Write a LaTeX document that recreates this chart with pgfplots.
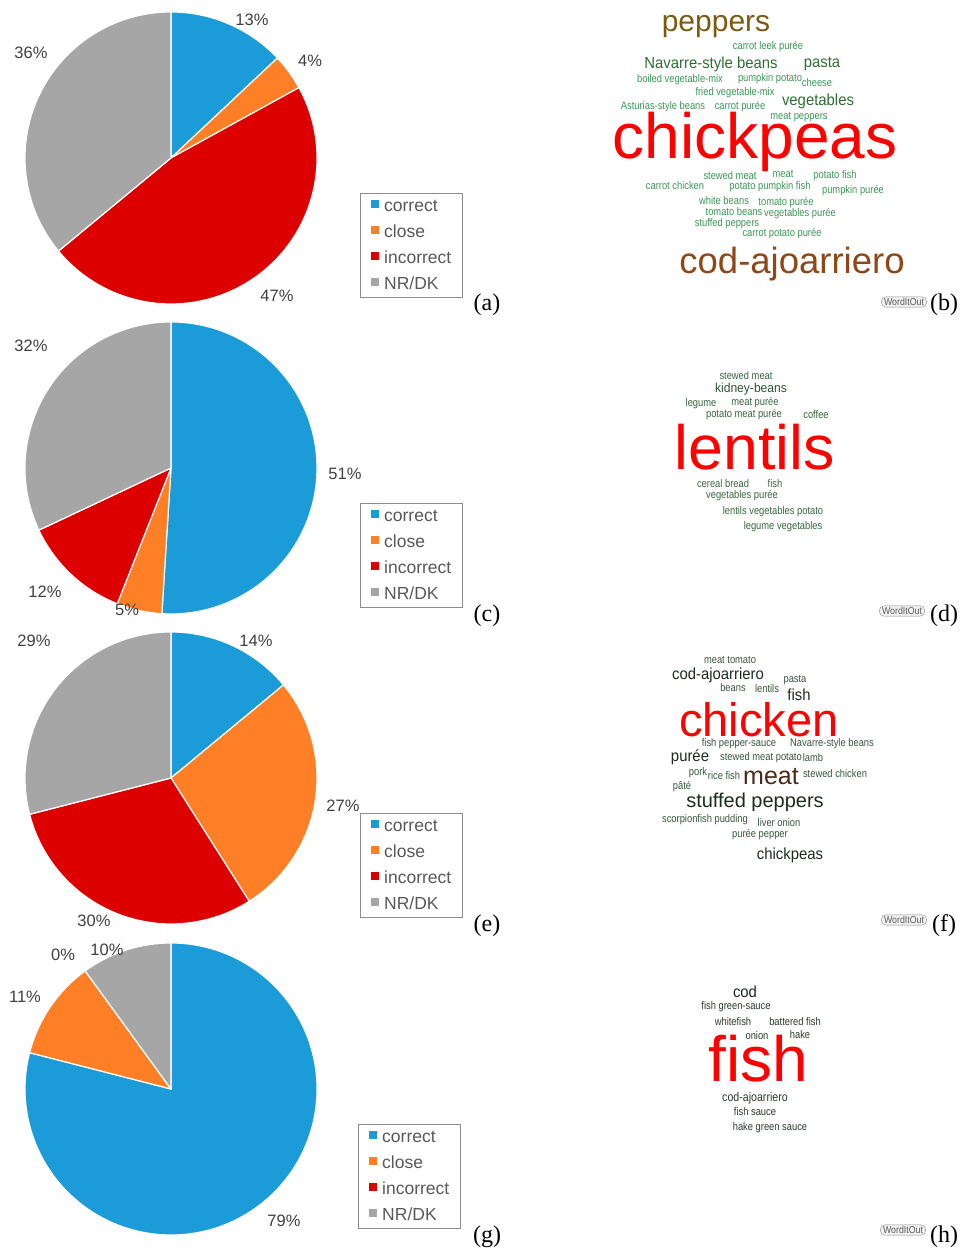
\documentclass[border=0pt]{standalone}
\usepackage{pgfplots}
\pgfplotsset{compat=1.18}
\usepackage{fontspec}
\setmainfont{Liberation Serif}
\newfontfamily\arial{Liberation Sans}
\definecolor{cBlue}{HTML}{1B9BD7}
\definecolor{cOrange}{HTML}{FF7F27}
\definecolor{cRed}{HTML}{DD0000}
\definecolor{cGray}{HTML}{A6A6A6}
\definecolor{labcol}{HTML}{404040}
\definecolor{legtext}{HTML}{595959}
\definecolor{legdraw}{HTML}{8C8C8C}
\definecolor{wRed}{HTML}{FF0000}
\definecolor{cPep}{HTML}{7B5B12}
\definecolor{cCod}{HTML}{8E4716}
\definecolor{gB}{HTML}{3A9557}
\definecolor{gBm}{HTML}{2D6E33}
\definecolor{gD}{HTML}{35653F}
\definecolor{gDm}{HTML}{2C5536}
\definecolor{gF}{HTML}{37553E}
\definecolor{gFm}{HTML}{1E2B20}
\definecolor{cMeat}{HTML}{4A2A18}
\definecolor{gH}{HTML}{2A392C}
\definecolor{gHm}{HTML}{1F2621}

\tikzset{
  ws/.style={font=\arial\fontsize{11}{11}\selectfont, xscale=0.85, inner sep=0pt},
  wm/.style={font=\arial\fontsize{16}{16}\selectfont, xscale=0.93, inner sep=0pt},
  wb/.style={font=\arial\fontsize{#1}{#1}\selectfont, inner sep=0pt},
  plab/.style={font=\arial\fontsize{16.5}{16.5}\selectfont, text=labcol, inner sep=0pt},
  sublab/.style={font=\rmfamily\fontsize{24}{24}\selectfont, inner sep=0pt},
  logo/.style={draw=black!45, rounded corners=4.5pt, fill=black!5, text=black!65, font=\arial\fontsize{10}{10}\selectfont, inner xsep=3pt, inner ysep=1.5pt, xscale=0.88},
}

\newcommand{\slice}[6]{%
  \fill[#5, draw=white, line width=1.2pt, line join=round] (axis cs:#1,#2) -- ++({#3}:#6pt) arc[start angle={#3}, end angle={#3-3.6*#4}, radius=#6pt] -- cycle;}
\newcommand{\pie}[6]{%
  \slice{#1}{#2}{90}{#3}{cBlue}{146}
  \slice{#1}{#2}{90-3.6*(#3)}{#4}{cOrange}{146}
  \slice{#1}{#2}{90-3.6*(#3+#4)}{#5}{cRed}{146}
  \slice{#1}{#2}{90-3.6*(#3+#4+#5)}{#6}{cGray}{146}}

\pgfplotsset{
  sq/.style={legend image code/.code={\fill[#1] (0pt,-1.4pt) rectangle (7pt,5.6pt);}},
  panel/.style={x=1pt, y=1pt, xmin=0, xmax=963, ymin=0, ymax=1252,
    hide axis, clip=false, at={(0pt,0pt)}, anchor=origin,
    legend cell align=left,
    legend style={anchor=north west, draw=legdraw, line width=0.8pt,
      font=\arial\fontsize{17.5}{17.5}\selectfont, text=legtext,
      inner xsep=11pt, inner ysep=4.5pt, row sep=9pt,
      nodes={inner sep=0pt, text height=14pt, text depth=3pt},
      /tikz/every odd column/.append style={column sep=5pt}}},
}

\newcommand{\legitems}{%
  \addlegendimage{sq=cBlue}\addlegendentry{correct}
  \addlegendimage{sq=cOrange}\addlegendentry{close}
  \addlegendimage{sq=cRed}\addlegendentry{incorrect}
  \addlegendimage{sq=cGray}\addlegendentry{NR/DK}}

\begin{document}
\begin{tikzpicture}
\path[use as bounding box] (0pt,0pt) rectangle (963pt,1252pt);

% ---------------- (a) / (b)
\begin{axis}[panel, legend style={at={(0.3738,0.8458)}}]
\legitems
\pie{171}{1094}{13}{4}{47}{36}
\node[plab] at (axis cs:252,1232) {13\%};
\node[plab] at (axis cs:310,1191) {4\%};
\node[plab] at (axis cs:277,956) {47\%};
\node[plab] at (axis cs:31,1199) {36\%};
\node[sublab] at (axis cs:487,947) {(a)};
\node[sublab] at (axis cs:944,947) {(b)};
\node[logo] at (axis cs:904,950) {WordItOut};
% word cloud (b)
\node[wb=30, text=cPep] at (axis cs:716,1225) {peppers};
\node[ws, text=gB] at (axis cs:768,1205) {carrot leek purée};
\node[wm, text=gBm] at (axis cs:711,1188) {Navarre-style beans};
\node[wm, text=gBm] at (axis cs:822,1188) {pasta};
\node[ws, text=gB] at (axis cs:680,1172) {boiled vegetable-mix};
\node[ws, text=gB] at (axis cs:770,1173) {pumpkin potato};
\node[ws, text=gB] at (axis cs:817,1169) {cheese};
\node[ws, text=gB] at (axis cs:735,1159) {fried vegetable-mix};
\node[wm, text=gBm] at (axis cs:818,1151) {vegetables};
\node[ws, text=gB] at (axis cs:663,1145) {Asturias-style beans};
\node[ws, text=gB] at (axis cs:740,1145) {carrot purée};
\node[ws, text=gB] at (axis cs:799,1135) {meat peppers};
\node[wb=64, text=wRed] at (axis cs:755,1110) {chickpeas};
\node[ws, text=gB] at (axis cs:730,1076) {stewed meat};
\node[ws, text=gB] at (axis cs:783,1078) {meat};
\node[ws, text=gB] at (axis cs:835,1076) {potato fish};
\node[ws, text=gB] at (axis cs:675,1066) {carrot chicken};
\node[ws, text=gB] at (axis cs:770,1065) {potato pumpkin fish};
\node[ws, text=gB] at (axis cs:853,1061) {pumpkin purée};
\node[ws, text=gB] at (axis cs:724,1051) {white beans};
\node[ws, text=gB] at (axis cs:786,1049) {tomato purée};
\node[ws, text=gB] at (axis cs:734,1040) {tomato beans};
\node[ws, text=gB] at (axis cs:800,1038) {vegetables purée};
\node[ws, text=gB] at (axis cs:727,1028) {stuffed peppers};
\node[ws, text=gB] at (axis cs:782,1018) {carrot potato purée};
\node[wb=36.5, text=cCod] at (axis cs:792,988) {cod-ajoarriero};
\end{axis}

% ---------------- (c) / (d)
\begin{axis}[panel, legend style={at={(0.3738,0.5982)}}]
\legitems
\pie{171}{784}{51}{5}{12}{32}
\node[plab] at (axis cs:345,778) {51\%};
\node[plab] at (axis cs:127,642) {5\%};
\node[plab] at (axis cs:45,660) {12\%};
\node[plab] at (axis cs:31,906) {32\%};
\node[sublab] at (axis cs:487,636) {(c)};
\node[sublab] at (axis cs:944,636) {(d)};
\node[logo] at (axis cs:902,641) {WordItOut};
% word cloud (d)
\node[ws, text=gD] at (axis cs:746,876) {stewed meat};
\node[wb=13, xscale=0.93, text=gDm] at (axis cs:751,863) {kidney-beans};
\node[ws, text=gD] at (axis cs:701,848) {legume};
\node[ws, text=gD] at (axis cs:755,849) {meat purée};
\node[ws, text=gD] at (axis cs:744,837) {potato meat purée};
\node[ws, text=gD] at (axis cs:816,837) {coffee};
\node[wb=62.6, text=wRed] at (axis cs:755,805) {lentils};
\node[ws, text=gD] at (axis cs:723,768) {cereal bread};
\node[ws, text=gD] at (axis cs:775,768) {fish};
\node[ws, text=gD] at (axis cs:742,756) {vegetables purée};
\node[ws, text=gD] at (axis cs:773,740) {lentils vegetables potato};
\node[ws, text=gD] at (axis cs:783,725) {legume vegetables};
\end{axis}

% ---------------- (e) / (f)
\begin{axis}[panel, legend style={at={(0.3738,0.3506)}}]
\legitems
\pie{171}{474}{14}{27}{30}{29}
\node[plab] at (axis cs:256,611) {14\%};
\node[plab] at (axis cs:343,446) {27\%};
\node[plab] at (axis cs:94,331) {30\%};
\node[plab] at (axis cs:34,611) {29\%};
\node[sublab] at (axis cs:487,326) {(e)};
\node[sublab] at (axis cs:944,326) {(f)};
\node[logo] at (axis cs:904,332) {WordItOut};
% word cloud (f)
\node[ws, text=gF] at (axis cs:730,592) {meat tomato};
\node[wm, text=gFm] at (axis cs:718,577) {cod-ajoarriero};
\node[ws, text=gF] at (axis cs:795,572) {pasta};
\node[ws, text=gF] at (axis cs:733,564) {beans};
\node[ws, text=gF] at (axis cs:767,563) {lentils};
\node[wm, text=gFm] at (axis cs:799,557) {fish};
\node[wb=47, text=wRed] at (axis cs:759,532) {chicken};
\node[ws, text=gF] at (axis cs:739,508) {fish pepper-sauce};
\node[ws, text=gF] at (axis cs:832,508) {Navarre-style beans};
\node[wm, text=gFm] at (axis cs:690,495) {purée};
\node[ws, text=gF] at (axis cs:761,494) {stewed meat potato};
\node[ws, text=gF] at (axis cs:813,494) {lamb};
\node[ws, text=gF] at (axis cs:698,479) {pork};
\node[ws, text=gF] at (axis cs:724,476) {rice fish};
\node[wb=25, text=cMeat] at (axis cs:771,475) {meat};
\node[ws, text=gF] at (axis cs:835,478) {stewed chicken};
\node[ws, text=gF] at (axis cs:682,465) {pâté};
\node[wb=20, text=gFm] at (axis cs:755,450) {stuffed peppers};
\node[ws, text=gF] at (axis cs:705,432) {scorpionfish pudding};
\node[ws, text=gF] at (axis cs:779,429) {liver onion};
\node[ws, text=gF] at (axis cs:760,417) {purée pepper};
\node[wm, text=gFm] at (axis cs:790,397) {chickpeas};
\end{axis}

% ---------------- (g) / (h)
\begin{axis}[panel, legend style={at={(0.3718,0.1022)}}]
\legitems
\pie{171}{163}{79}{11}{0}{10}
\node[plab] at (axis cs:284,31) {79\%};
\node[plab] at (axis cs:25,255) {11\%};
\node[plab] at (axis cs:63,297) {0\%};
\node[plab] at (axis cs:107,302) {10\%};
\node[sublab] at (axis cs:487,15) {(g)};
\node[sublab] at (axis cs:944,15) {(h)};
\node[logo] at (axis cs:903,22) {WordItOut};
% word cloud (h)
\node[wm, text=gHm] at (axis cs:745,260) {cod};
\node[ws, text=gH] at (axis cs:736,245) {fish green-sauce};
\node[ws, text=gH] at (axis cs:733,230) {whitefish};
\node[ws, text=gH] at (axis cs:795,230) {battered fish};
\node[ws, text=gH] at (axis cs:757,216) {onion};
\node[ws, text=gH] at (axis cs:800,217) {hake};
\node[wb=64, text=wRed] at (axis cs:758,193) {fish};
\node[wb=12.5, xscale=0.85, text=gH] at (axis cs:755,154) {cod-ajoarriero};
\node[ws, text=gH] at (axis cs:755,140) {fish sauce};
\node[ws, text=gH] at (axis cs:770,124) {hake green sauce};
\end{axis}
\end{tikzpicture}
\end{document}
